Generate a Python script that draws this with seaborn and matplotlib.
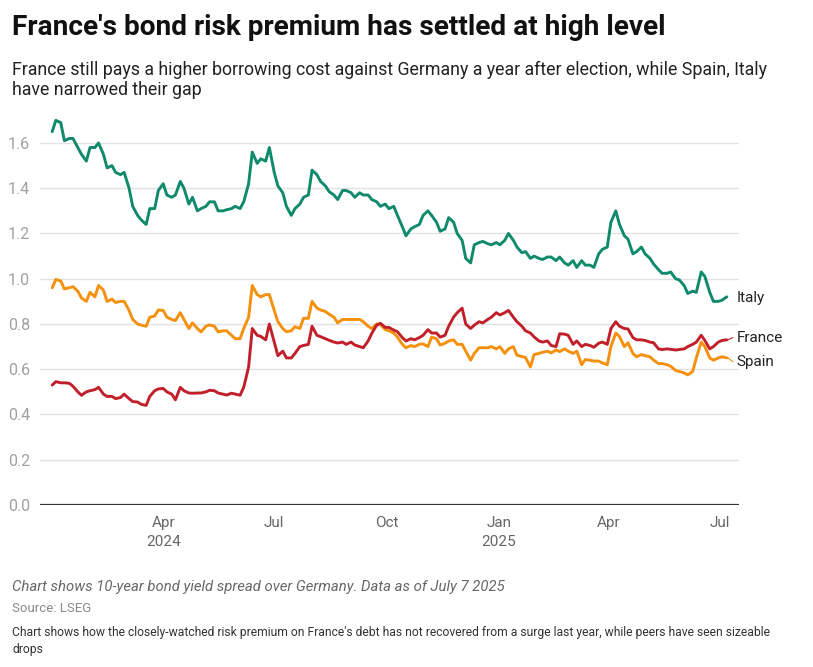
import pandas as pd
import matplotlib
matplotlib.use("Agg")
import matplotlib.pyplot as plt
import seaborn as sns

# readings of the 10-year spread over Germany (percentage points),
# taken every Monday and Thursday from Jan 1 2024 to Jul 7 2025
start_date = "2024-01-01"
end_date = "2025-07-07"

italy = [1.65, 1.70, 1.69, 1.61, 1.62, 1.62, 1.58, 1.55, 1.52, 1.58,
         1.58, 1.60, 1.55, 1.49, 1.50, 1.47, 1.46, 1.47, 1.40, 1.32,
         1.28, 1.26, 1.24, 1.31, 1.31, 1.39, 1.42, 1.37, 1.36, 1.37,
         1.43, 1.40, 1.33, 1.36, 1.30, 1.31, 1.32, 1.34, 1.34, 1.30,
         1.30, 1.305, 1.31, 1.32, 1.31, 1.34, 1.42, 1.56, 1.51, 1.53,
         1.52, 1.58, 1.47, 1.41, 1.38, 1.32, 1.28, 1.31, 1.33, 1.36,
         1.37, 1.48, 1.46, 1.43, 1.41, 1.385, 1.37, 1.35, 1.39, 1.39,
         1.38, 1.36, 1.38, 1.37, 1.37, 1.35, 1.34, 1.32, 1.33, 1.31,
         1.32, 1.28, 1.23, 1.19, 1.22, 1.23, 1.24, 1.28, 1.30, 1.28,
         1.25, 1.21, 1.22, 1.27, 1.25, 1.20, 1.17, 1.09, 1.07, 1.15,
         1.16, 1.165, 1.155, 1.15, 1.16, 1.15, 1.17, 1.20, 1.17, 1.14,
         1.115, 1.12, 1.09, 1.10, 1.09, 1.085, 1.096, 1.096, 1.08, 1.096,
         1.07, 1.06, 1.08, 1.05, 1.08, 1.06, 1.06, 1.05, 1.11, 1.13,
         1.14, 1.25, 1.30, 1.24, 1.19, 1.175, 1.11, 1.12, 1.14, 1.11,
         1.09, 1.065, 1.04, 1.024, 1.024, 1.03, 1.00, 0.995, 0.97, 0.935,
         0.945, 0.94, 1.03, 1.01, 0.94, 0.90, 0.90, 0.905, 0.92]

france = [0.53, 0.545, 0.54, 0.54, 0.538, 0.525, 0.50, 0.485, 0.50, 0.505,
          0.51, 0.52, 0.49, 0.48, 0.48, 0.47, 0.475, 0.49, 0.47, 0.457,
          0.455, 0.445, 0.44, 0.48, 0.505, 0.513, 0.515, 0.50, 0.49, 0.465,
          0.52, 0.505, 0.495, 0.494, 0.495, 0.495, 0.50, 0.507, 0.505, 0.495,
          0.49, 0.486, 0.494, 0.49, 0.485, 0.52, 0.61, 0.78, 0.75, 0.745,
          0.73, 0.80, 0.72, 0.66, 0.68, 0.65, 0.65, 0.67, 0.70, 0.705,
          0.71, 0.79, 0.75, 0.744, 0.735, 0.728, 0.72, 0.716, 0.72, 0.71,
          0.72, 0.707, 0.70, 0.695, 0.725, 0.759, 0.795, 0.803, 0.785, 0.785,
          0.773, 0.766, 0.74, 0.725, 0.735, 0.73, 0.74, 0.75, 0.775, 0.76,
          0.76, 0.742, 0.75, 0.79, 0.83, 0.85, 0.87, 0.80, 0.78, 0.795,
          0.81, 0.805, 0.82, 0.83, 0.85, 0.84, 0.85, 0.86, 0.83, 0.81,
          0.79, 0.77, 0.76, 0.743, 0.725, 0.72, 0.725, 0.705, 0.70, 0.757,
          0.755, 0.75, 0.71, 0.725, 0.70, 0.71, 0.705, 0.697, 0.715, 0.72,
          0.71, 0.78, 0.81, 0.79, 0.78, 0.778, 0.74, 0.73, 0.73, 0.727,
          0.72, 0.717, 0.69, 0.687, 0.69, 0.688, 0.685, 0.687, 0.69, 0.70,
          0.71, 0.72, 0.75, 0.727, 0.69, 0.70, 0.72, 0.727, 0.73]

spain = [0.96, 0.997, 0.99, 0.955, 0.96, 0.965, 0.945, 0.915, 0.90, 0.94,
         0.92, 0.97, 0.95, 0.90, 0.91, 0.895, 0.90, 0.90, 0.86, 0.82,
         0.80, 0.795, 0.79, 0.83, 0.835, 0.862, 0.86, 0.83, 0.82, 0.815,
         0.85, 0.82, 0.78, 0.805, 0.78, 0.765, 0.79, 0.796, 0.79, 0.765,
         0.77, 0.77, 0.75, 0.735, 0.735, 0.78, 0.83, 0.97, 0.93, 0.92,
         0.93, 0.93, 0.86, 0.81, 0.78, 0.766, 0.77, 0.788, 0.78, 0.825,
         0.825, 0.90, 0.87, 0.862, 0.855, 0.843, 0.83, 0.805, 0.82, 0.82,
         0.82, 0.82, 0.82, 0.81, 0.79, 0.78, 0.80, 0.798, 0.775, 0.77,
         0.76, 0.742, 0.71, 0.695, 0.705, 0.70, 0.71, 0.712, 0.70, 0.742,
         0.735, 0.707, 0.715, 0.725, 0.73, 0.71, 0.71, 0.68, 0.64, 0.67,
         0.695, 0.695, 0.695, 0.70, 0.69, 0.70, 0.67, 0.69, 0.70, 0.662,
         0.656, 0.652, 0.61, 0.665, 0.67, 0.675, 0.68, 0.672, 0.685, 0.678,
         0.69, 0.68, 0.67, 0.68, 0.62, 0.643, 0.64, 0.636, 0.636, 0.628,
         0.62, 0.70, 0.76, 0.745, 0.70, 0.717, 0.67, 0.655, 0.665, 0.66,
         0.655, 0.64, 0.625, 0.625, 0.62, 0.613, 0.595, 0.59, 0.584, 0.575,
         0.59, 0.65, 0.72, 0.70, 0.65, 0.64, 0.65, 0.655, 0.65]

tick_dates = ["2024-04-01", "2024-07-01", "2024-10-01",
              "2025-01-01", "2025-04-01", "2025-07-01"]
tick_labels = ["Apr\n2024", "Jul", "Oct", "Jan\n2025", "Apr", "Jul"]
y_ticks = [0.0, 0.2, 0.4, 0.6, 0.8, 1.0, 1.2, 1.4, 1.6]

# where the end labels sit (value units), next to each line's last point
label_y = {"Italy": 0.915, "France": 0.74, "Spain": 0.633}

colors = {"Italy": "#0f8a6c", "France": "#c1202a", "Spain": "#f5900c"}

sns.set_style("white")
plt.rcParams["font.family"] = ["Roboto", "DejaVu Sans"]

days = pd.date_range(start_date, end_date, freq="D")
dates = days[days.dayofweek.isin([0, 3])]
wide = pd.DataFrame({"date": dates, "Italy": italy, "France": france, "Spain": spain})
df = wide.melt(id_vars="date", var_name="country", value_name="spread")

fig = plt.figure(figsize=(8.13, 6.67), dpi=100)
ax = fig.add_axes([0.0492, 0.2429, 0.8598, 0.5936])

for y in y_ticks[1:]:
    ax.axhline(y, color="#e2e2e2", linewidth=1.0, zorder=0)
ax.axhline(0, color="#333333", linewidth=1.6, zorder=1)

sns.lineplot(data=df, x="date", y="spread", hue="country",
             hue_order=["Spain", "France", "Italy"], palette=colors,
             linewidth=2.1, legend=False, ax=ax, zorder=3)

ax.set_xlim(pd.Timestamp("2023-12-22"), pd.Timestamp("2025-07-17"))
ax.set_ylim(0, 1.75)
ax.set_xticks(pd.to_datetime(tick_dates))
ax.set_xticklabels(tick_labels, color="#666666", fontsize=11, linespacing=1.45)
ax.set_yticks(y_ticks)
ax.set_yticklabels([f"{v:.1f}" for v in y_ticks], color="#a0a0a0", fontsize=11.5)
ax.tick_params(axis="both", length=0)
ax.tick_params(axis="x", pad=8)
ax.tick_params(axis="y", pad=7)
ax.set_xlabel("")
ax.set_ylabel("")
for s in ax.spines.values():
    s.set_visible(False)

last = dates[-1]
for name, vals in [("Italy", italy), ("France", france), ("Spain", spain)]:
    ax.text(last + pd.Timedelta(days=8), label_y[name], name, fontsize=11,
            color="#222222", va="center", ha="left")
    if name != "Italy":
        ax.plot([last + pd.Timedelta(days=1), last + pd.Timedelta(days=5)],
                [vals[-1], label_y[name]], color=colors[name], linewidth=0.8)

fig.text(0.0148, 0.9595, "France's bond risk premium has settled at high level",
         fontsize=20.2, fontweight="bold", color="#111111", va="center")
fig.text(0.0148, 0.895,
         "France still pays a higher borrowing cost against Germany a year after election, while Spain, Italy",
         fontsize=12.8, color="#222222", va="center")
fig.text(0.0148, 0.865, "have narrowed their gap",
         fontsize=12.8, color="#222222", va="center")

fig.text(0.0148, 0.120, "Chart shows 10-year bond yield spread over Germany. Data as of July 7 2025",
         fontsize=10.7, style="italic", color="#666666", va="center")
fig.text(0.0148, 0.088, "Source: LSEG", fontsize=9.5, color="#8a8a8a", va="center")
fig.text(0.0148, 0.0515,
         "Chart shows how the closely-watched risk premium on France's debt has not recovered from a surge last year, while peers have seen sizeable",
         fontsize=8.7, color="#333333", va="center")
fig.text(0.0148, 0.026, "drops", fontsize=8.7, color="#333333", va="center")

fig.savefig("out.png", dpi=100)
